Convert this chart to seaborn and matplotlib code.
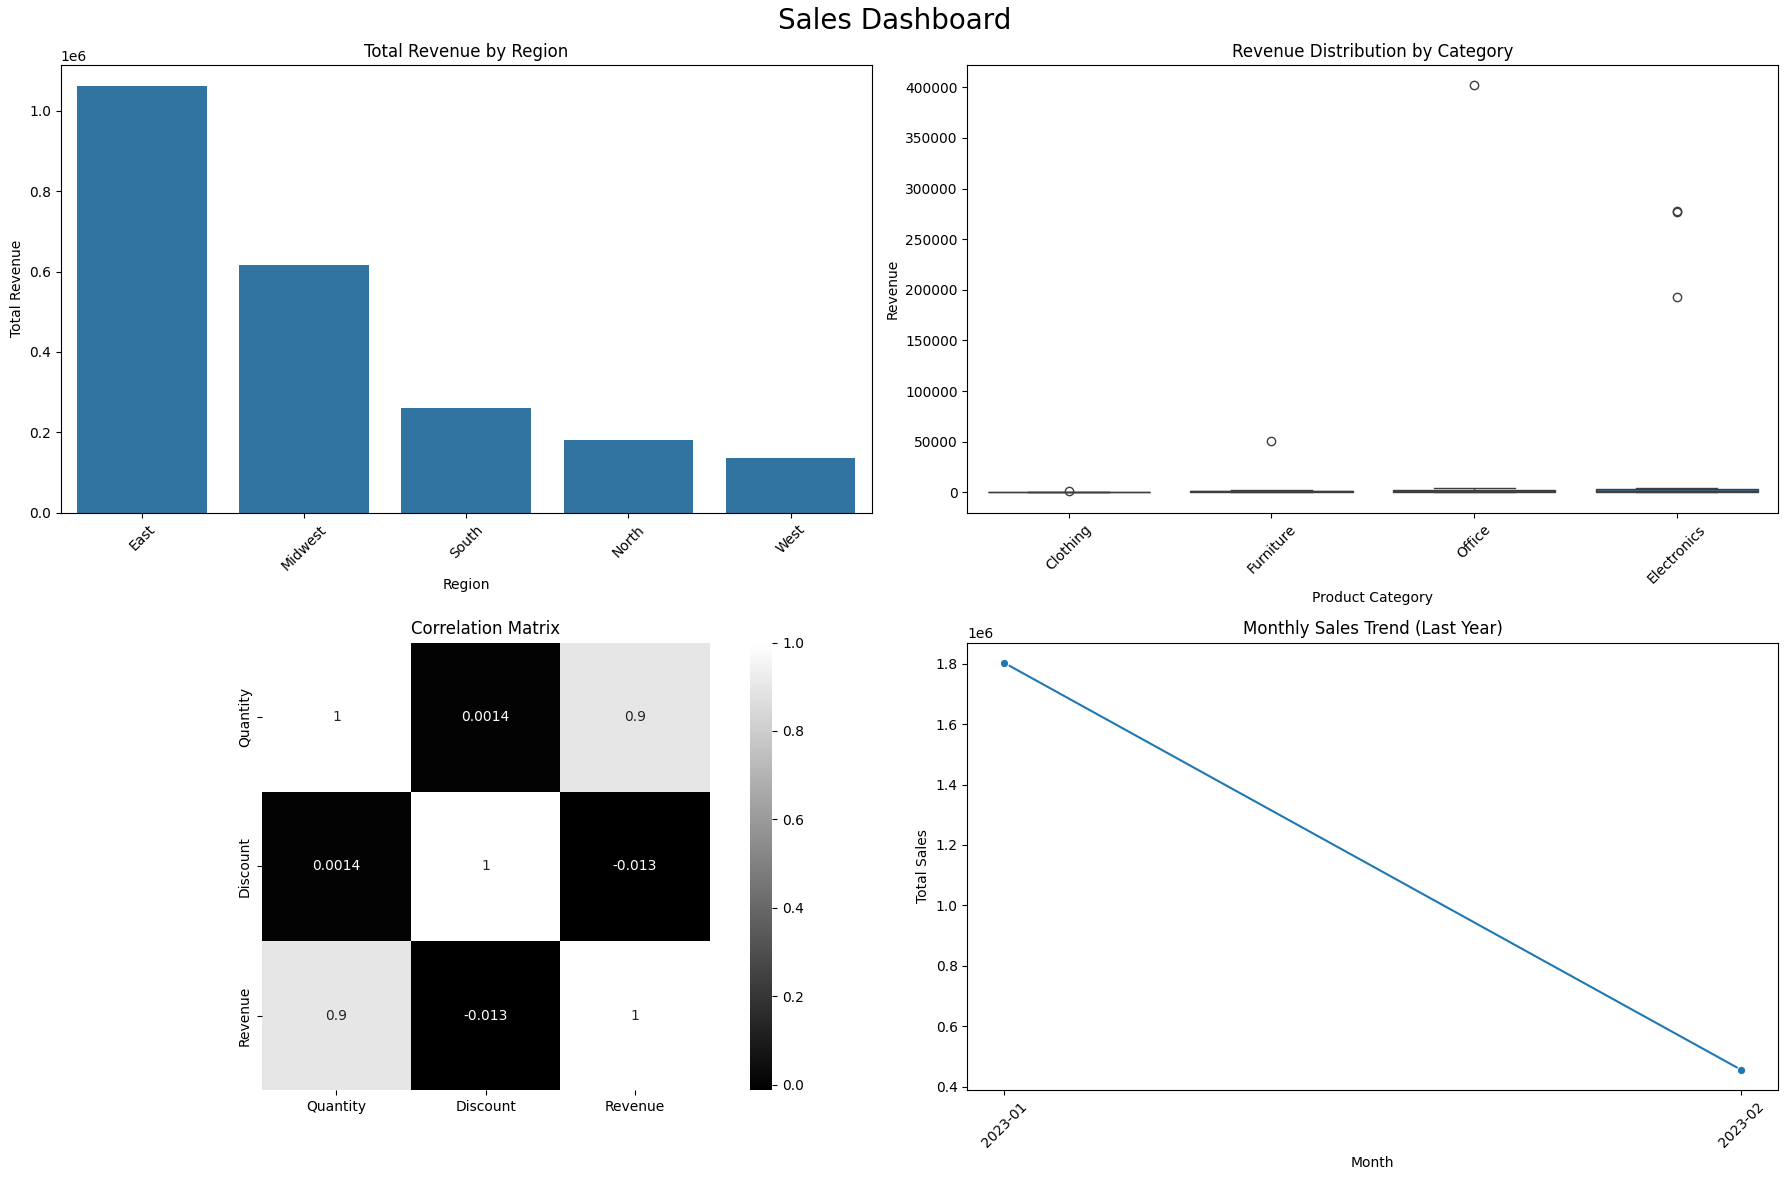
import numpy as np
import pandas as pd
import seaborn as sns
import matplotlib.pyplot as plt

# revenue totals per region
regions = ['East', 'Midwest', 'South', 'North', 'West']
region_revenue = [1061000, 617000, 261000, 181000, 137000]

# individual order revenues per category (box plot)
clothing_rev = [40, 60, 85, 110, 150, 190, 230, 280, 320, 380, 430, 1250]
furniture_rev = [150, 300, 450, 600, 800, 1000, 1200, 1500, 1800, 2200, 51000]
office_rev = [150, 300, 500, 700, 900, 1100, 1400, 1700, 2100, 2600, 3400, 4500, 402000]
electronics_rev = [150, 250, 400, 550, 700, 850, 1000, 1200, 1400, 1650, 1900, 2200,
                   2600, 3200, 4500, 193000, 277000, 277800]
categories = ['Clothing', 'Furniture', 'Office', 'Electronics']

# correlation matrix
corr_labels = ['Quantity', 'Discount', 'Revenue']
corr_values = [[1.0, 0.0014, 0.9],
               [0.0014, 1.0, -0.013],
               [0.9, -0.013, 1.0]]

# monthly sales
months = ['2023-01', '2023-02']
monthly_sales = [1803000, 455000]

box_df = pd.DataFrame({
    'Product Category': (['Clothing'] * len(clothing_rev) + ['Furniture'] * len(furniture_rev)
                         + ['Office'] * len(office_rev) + ['Electronics'] * len(electronics_rev)),
    'Revenue': clothing_rev + furniture_rev + office_rev + electronics_rev,
})
corr = pd.DataFrame(corr_values, index=corr_labels, columns=corr_labels)

fig, axes = plt.subplots(2, 2, figsize=(17.89, 11.8), dpi=100)
fig.suptitle('Sales Dashboard', fontsize=20, y=0.994)

# Total revenue by region
ax = axes[0, 0]
sns.barplot(x=regions, y=region_revenue, ax=ax)
ax.set_title('Total Revenue by Region')
ax.set_xlabel('Region')
ax.set_ylabel('Total Revenue')
ax.tick_params(axis='x', rotation=45)

# Revenue distribution
ax = axes[0, 1]
sns.boxplot(data=box_df, x='Product Category', y='Revenue', order=categories, ax=ax)
ax.set_title('Revenue Distribution by Category')
ax.tick_params(axis='x', rotation=45)

# Correlation heatmap
ax = axes[1, 0]
sns.heatmap(corr, annot=True, cmap='gray', square=True, ax=ax)
ax.set_title('Correlation Matrix')

# Monthly trend
ax = axes[1, 1]
sns.lineplot(x=months, y=monthly_sales, marker='o', ax=ax)
ax.set_title('Monthly Sales Trend (Last Year)')
ax.set_xlabel('Month')
ax.set_ylabel('Total Sales')
ax.tick_params(axis='x', rotation=45)

plt.subplots_adjust(left=0.034, right=0.994, top=0.945, bottom=0.076,
                    wspace=0.118, hspace=0.29)
plt.savefig('out.png', dpi=100)
